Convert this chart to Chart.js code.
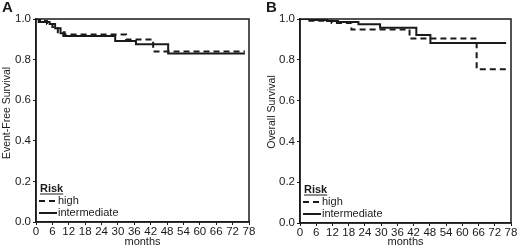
<!DOCTYPE html>
<html>
<head>
<meta charset="utf-8">
<script src="https://cdn.jsdelivr.net/npm/chart.js@4.4.0/dist/chart.umd.min.js"></script>
<style>
  body { margin: 0; background: #fff; }
  .wrap { display: flex; width: 520px; height: 249px; }
  canvas { display: block; }
</style>
</head>
<body>
<div class="wrap">
  <canvas id="chartA" width="260" height="249"></canvas>
  <canvas id="chartB" width="260" height="249"></canvas>
</div>
<script>
// tick values (months) and survival ticks
var monthTicks = [0, 6, 12, 18, 24, 30, 36, 42, 48, 54, 60, 66, 72, 78];
var survivalTicks = [0, 0.2, 0.4, 0.6, 0.8, 1.0];
var riskLabels = ['high', 'intermediate'];

// panel A - event-free survival, step points (month, survival after the step)
var efsHighMonths = [0, 1.5, 4, 6, 8, 10.5, 33, 42.9, 76.5];
var efsHighValues = [1.0, 0.99, 0.975, 0.96, 0.935, 0.924, 0.899, 0.84, 0.84];
var efsIntMonths = [0, 1, 5, 7, 9, 10, 29, 36.6, 48.4, 76.5];
var efsIntValues = [1.0, 0.985, 0.975, 0.955, 0.93, 0.916, 0.892, 0.876, 0.83, 0.83];

// panel B - overall survival
var osHighMonths = [0, 3, 11.7, 19, 40.5, 65.3, 76.2];
var osHighValues = [1.0, 0.992, 0.98, 0.949, 0.904, 0.754, 0.754];
var osIntMonths = [0, 5, 10, 14, 21.6, 29.6, 43, 48.2, 76.2];
var osIntValues = [1.0, 0.995, 0.99, 0.985, 0.974, 0.957, 0.922, 0.882, 0.882];

var FONT = "'Liberation Sans', Arial, sans-serif";
var INK = '#1a1a1a';

function toPoints(months, values) {
  var pts = [];
  for (var i = 0; i < months.length; i++) {
    pts.push({ x: months[i], y: values[i] });
  }
  return pts;
}

// box around the plot, panel letter, y title and the "Risk" legend
var decorPlugin = {
  id: 'decor',
  afterDraw: function (chart, args, opts) {
    var ctx = chart.ctx;
    var a = chart.chartArea;
    ctx.save();

    // frame
    ctx.strokeStyle = INK;
    ctx.lineWidth = 1.5;
    ctx.setLineDash([]);
    ctx.strokeRect(a.left, a.top, a.right - a.left, a.bottom - a.top);

    // panel letter
    ctx.fillStyle = INK;
    ctx.font = 'bold 15px ' + FONT;
    ctx.textAlign = 'left';
    ctx.textBaseline = 'middle';
    ctx.fillText(opts.letter, opts.letterX, 8);

    // y axis title
    ctx.save();
    ctx.translate(opts.titleX, opts.titleY);
    ctx.rotate(-Math.PI / 2);
    ctx.font = '10.5px ' + FONT;
    ctx.textAlign = 'center';
    ctx.fillText(opts.yTitle, 0, 0);
    ctx.restore();

    // legend
    var lx = a.left + opts.legendDx;
    ctx.font = 'bold 11px ' + FONT;
    ctx.textAlign = 'left';
    ctx.fillText('Risk', lx + 1, a.bottom - 33);
    var w = ctx.measureText('Risk').width;
    ctx.lineWidth = 1;
    ctx.beginPath();
    ctx.moveTo(lx + 1, a.bottom - 28);
    ctx.lineTo(lx + 1 + w, a.bottom - 28);
    ctx.stroke();

    ctx.font = '11px ' + FONT;
    chart.data.datasets.forEach(function (ds, i) {
      var y = a.bottom - 21 + i * 12;
      ctx.lineWidth = 2;
      ctx.setLineDash(ds.borderDash || []);
      ctx.beginPath();
      ctx.moveTo(lx, y);
      ctx.lineTo(lx + 18, y);
      ctx.stroke();
      ctx.setLineDash([]);
      ctx.fillText(ds.label, lx + 19, y);
    });
    ctx.restore();
  }
};

function makeChart(el, highPts, intPts, cfg) {
  return new Chart(el, {
    type: 'line',
    data: {
      datasets: [{
        label: riskLabels[0],
        data: highPts,
        borderColor: INK,
        borderWidth: 2,
        borderDash: [6, 4],
        pointRadius: 0,
        stepped: true,
        fill: false
      }, {
        label: riskLabels[1],
        data: intPts,
        borderColor: INK,
        borderWidth: 2,
        pointRadius: 0,
        stepped: true,
        fill: false
      }]
    },
    options: {
      responsive: false,
      animation: false,
      layout: { padding: { top: 19, right: cfg.padRight, left: 0, bottom: 0 } },
      plugins: {
        legend: { display: false },
        tooltip: { enabled: false },
        decor: cfg.decor
      },
      scales: {
        x: {
          type: 'linear',
          min: 0,
          max: 78,
          afterBuildTicks: function (s) {
            s.ticks = monthTicks.map(function (v) { return { value: v }; });
          },
          afterFit: function (s) { s.height = cfg.xHeight; },
          grid: { display: true, drawOnChartArea: false, tickLength: 3, color: INK },
          border: { display: true, color: INK, width: 1.5 },
          ticks: { color: INK, padding: 0, maxRotation: 0, autoSkip: false, font: { family: FONT, size: 11.5 } },
          title: { display: true, text: 'months', color: INK, padding: { top: 0, bottom: 0 }, font: { family: FONT, size: 11 } }
        },
        y: {
          min: 0,
          max: 1,
          afterBuildTicks: function (s) {
            s.ticks = survivalTicks.map(function (v) { return { value: v }; });
          },
          afterFit: function (s) { s.width = cfg.yWidth; },
          grid: { display: true, drawOnChartArea: false, tickLength: 3, color: INK },
          border: { display: true, color: INK, width: 1.5 },
          ticks: {
            color: INK,
            padding: 2,
            font: { family: FONT, size: 11.5 },
            callback: function (v) { return Number(v).toFixed(1); }
          }
        }
      }
    },
    plugins: [decorPlugin]
  });
}

var chartA = makeChart(document.getElementById('chartA'),
  toPoints(efsHighMonths, efsHighValues),
  toPoints(efsIntMonths, efsIntValues),
  {
    padRight: 11, xHeight: 27, yWidth: 36,
    decor: { letter: 'A', letterX: 2, yTitle: 'Event-Free Survival', titleX: 7, titleY: 113, legendDx: 3 }
  });

var chartB = makeChart(document.getElementById('chartB'),
  toPoints(osHighMonths, osHighValues),
  toPoints(osIntMonths, osIntValues),
  {
    padRight: 9, xHeight: 26, yWidth: 40,
    decor: { letter: 'B', letterX: 6, yTitle: 'Overall Survival', titleX: 12, titleY: 112, legendDx: 3 }
  });
</script>
</body>
</html>
